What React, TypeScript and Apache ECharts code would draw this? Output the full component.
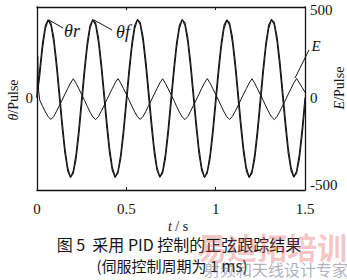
import React, { useEffect, useRef } from "react";
import * as echarts from "echarts";

// time step between samples (s)
const STEP = 1 / 64;

// θr reference (Pulse), sampled every STEP from t = 0 to 1.5 s
const THETA_R = [
  0, 170, 318, 415, 447, 414, 316, 171, -2, -175, -322, -421, -459, -420, -321, -173,
  2, 172, 319, 416, 448, 415, 317, 170, -1, -174, -323, -420, -458, -421, -322, -174,
  1, 171, 318, 416, 449, 416, 318, 172, 0, -173, -321, -419, -457, -420, -321, -172,
  0, 172, 317, 415, 448, 415, 317, 171, -1, -174, -322, -420, -459, -421, -322, -173,
  1, 171, 318, 416, 447, 414, 316, 170, -2, -175, -323, -421, -458, -420, -321, -173,
  0, 172, 319, 417, 449, 416, 318, 172, 0, -173, -321, -420, -457, -419, -320, -172,
  1,
];

// θf feedback (Pulse), same sampling
const THETA_F = [
  0, 128, 283, 395, 445, 429, 348, 212, 43, -131, -288, -401, -456, -435, -353, -216,
  -46, 130, 285, 396, 446, 430, 349, 213, 44, -130, -287, -400, -455, -434, -352, -215,
  -45, 129, 284, 396, 447, 431, 350, 214, 45, -129, -286, -399, -455, -433, -351, -214,
  -44, 130, 285, 395, 446, 430, 349, 213, 44, -130, -287, -400, -456, -434, -352, -215,
  -45, 129, 284, 395, 445, 429, 348, 212, 43, -131, -288, -401, -456, -435, -353, -216,
  -46, 130, 286, 397, 447, 431, 350, 214, 45, -129, -286, -399, -454, -433, -351, -214,
  -45,
];

// E error: start-up transient points [t, value]
const E_START = [
  [0, 0],
  [0.004, 240],
  [0.009, 40],
];
// E error (Pulse), sampled every STEP from t = STEP to 1.5 s
const E_VALUES = [
  -15, -50, -82, -110, -125, -108, -78, -46, -14, 20, 52, 84, 108, 82, 50,
  18, -15, -50, -83, -111, -126, -109, -79, -46, -13, 21, 53, 85, 109, 83, 51,
  19, -14, -49, -82, -110, -125, -108, -78, -45, -13, 20, 52, 84, 108, 82, 50,
  18, -15, -50, -83, -111, -126, -109, -78, -46, -14, 20, 53, 85, 109, 83, 51,
  19, -14, -49, -82, -110, -125, -108, -79, -46, -13, 21, 52, 84, 108, 82, 50,
  18, -15, -50, -82, -111, -126, -108, -78, -46, -14, 20, 52, 84, 110, 84, 58,
  30,
];

const X_TICKS = [0, 0.5, 1, 1.5];
const LEFT_Y_LABELS = [0];
const RIGHT_Y_LABELS = [-500, 0, 500];

const SERIF = "Times New Roman";
const AXIS_SERIF = "serif";
const CJK = "Noto Sans CJK SC";
const INK = "#141414";

export default function App() {
  const ref = useRef<HTMLDivElement>(null);

  useEffect(() => {
    if (!ref.current) return;
    const chart = echarts.init(ref.current, undefined, { renderer: "svg" });

    const thetaR = THETA_R.map((v, i) => [i * STEP, v]);
    const thetaF = THETA_F.map((v, i) => [i * STEP, v]);
    const eData = [...E_START, ...E_VALUES.map((v, i) => [(i + 1) * STEP, v])];

    const lineSeries = (name: string, data: number[][], width: number) => ({
      name,
      type: "line",
      data,
      showSymbol: false,
      symbol: "none",
      smooth: false,
      lineStyle: { color: INK, width },
      xAxisIndex: 0,
      yAxisIndex: 0,
      silent: true,
    });

    const txt = (
      x: number,
      y: number,
      text: string,
      size: number,
      family: string,
      extra: any = {}
    ) => ({
      type: "text",
      x,
      y,
      ...extra.el,
      style: {
        text,
        fontSize: size,
        fontFamily: family,
        fontStyle: extra.italic ? "italic" : "normal",
        fontWeight: extra.bold ? "bold" : "normal",
        fill: extra.fill || INK,
        align: "center",
        verticalAlign: "middle",
        rich: extra.rich,
      },
    });

    const italicRich = {
      i: { fontStyle: "italic", fontFamily: SERIF, fontSize: 14, fill: INK },
      n: { fontStyle: "normal", fontFamily: SERIF, fontSize: 14, fill: INK },
    };

    chart.setOption({
      animation: false,
      backgroundColor: "#ffffff",
      grid: { left: 37, right: 42, top: 7, bottom: 90, containLabel: false },
      xAxis: [
        {
          type: "value",
          min: 0,
          max: 1.5,
          interval: 0.5,
          position: "bottom",
          axisLine: { show: true, onZero: false, lineStyle: { color: INK, width: 1.3 } },
          axisTick: { show: true, inside: true, length: 3, lineStyle: { color: INK } },
          axisLabel: {
            show: true,
            customValues: X_TICKS,
            color: INK,
            fontFamily: AXIS_SERIF,
            fontSize: 15,
            margin: 11,
          },
          splitLine: { show: false },
        },
        {
          type: "value",
          min: 0,
          max: 1.5,
          interval: 0.5,
          position: "top",
          axisLine: { show: true, onZero: false, lineStyle: { color: INK, width: 1.3 } },
          axisTick: { show: true, inside: true, length: 3, lineStyle: { color: INK } },
          axisLabel: { show: false },
          splitLine: { show: false },
        },
      ],
      yAxis: [
        {
          type: "value",
          min: -530,
          max: 520,
          position: "left",
          axisLine: { show: true, onZero: false, lineStyle: { color: INK, width: 1.3 } },
          axisTick: { show: false },
          axisLabel: {
            show: true,
            customValues: LEFT_Y_LABELS,
            color: INK,
            fontFamily: AXIS_SERIF,
            fontSize: 15,
            margin: 4,
          },
          splitLine: { show: false },
        },
        {
          type: "value",
          min: -530,
          max: 520,
          position: "right",
          axisLine: { show: true, onZero: false, lineStyle: { color: INK, width: 1.3 } },
          axisTick: { show: false },
          axisLabel: {
            show: true,
            customValues: RIGHT_Y_LABELS,
            color: INK,
            fontFamily: AXIS_SERIF,
            fontSize: 15,
            margin: 5,
          },
          splitLine: { show: false },
        },
      ],
      series: [
        lineSeries("θr", thetaR, 1.1),
        lineSeries("θf", thetaF, 1.1),
        lineSeries("E", eData, 1.0),
      ],
      graphic: [
        // leader lines
        { type: "line", shape: { x1: 49, y1: 20, x2: 63, y2: 28 }, style: { stroke: INK, lineWidth: 1 } },
        { type: "line", shape: { x1: 94, y1: 20, x2: 112, y2: 30 }, style: { stroke: INK, lineWidth: 1 } },
        { type: "line", shape: { x1: 295, y1: 78, x2: 309, y2: 50 }, style: { stroke: INK, lineWidth: 1 } },
        // series labels
        txt(72, 31, "θr", 18, SERIF, { italic: true }),
        txt(123, 32, "θf", 18, SERIF, { italic: true }),
        txt(316, 46, "E", 15, SERIF, { italic: true }),
        // axis names
        txt(13, 100, "{i|θ}{n|/Pulse}", 14, SERIF, { rich: italicRich, el: { rotation: Math.PI / 2 } }),
        txt(339, 88, "{i|E}{n|/Pulse}", 14, SERIF, { rich: italicRich, el: { rotation: Math.PI / 2 } }),
        txt(178, 226, "{i|t}{n| / s}", 14, SERIF, { rich: italicRich }),
        // caption
        txt(179, 244, "图 5  采用 PID 控制的正弦跟踪结果", 16, CJK),
        txt(172, 265, "(伺服控制周期为 1 ms)", 15, CJK),
        // watermark
        txt(272, 246, "易迪拓培训", 30, CJK, { bold: true, fill: "rgba(225, 90, 90, 0.35)", el: { z: 10 } }),
        txt(276, 269, "射频和天线设计专家", 16, CJK, { fill: "rgba(110, 110, 130, 0.55)", el: { z: 10 } }),
      ],
    });

    return () => chart.dispose();
  }, []);

  return (
    <div
      ref={ref}
      style={{ position: "fixed", left: 0, top: 0, width: 347, height: 280, background: "#fff" }}
    />
  );
}
